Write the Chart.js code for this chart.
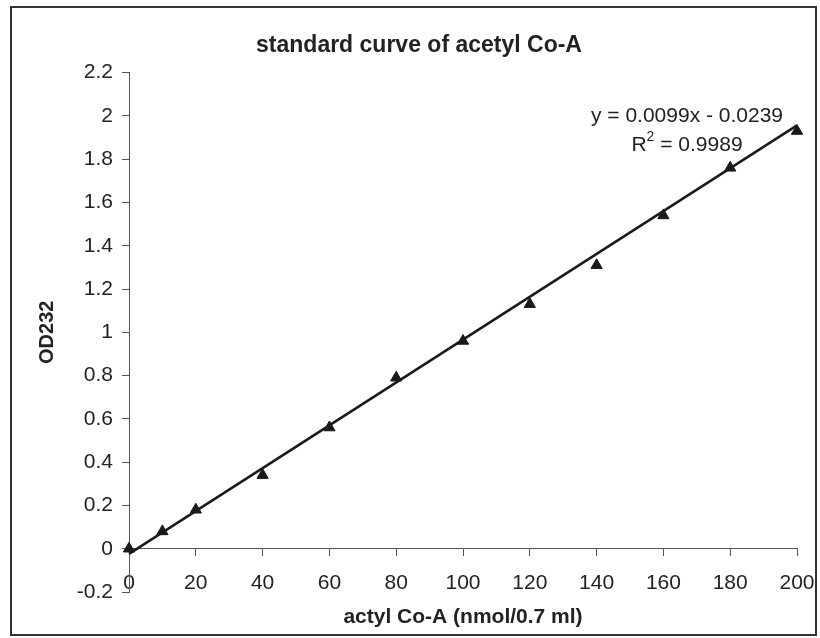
<!DOCTYPE html>
<html><head><meta charset="utf-8">
<script src="https://cdn.jsdelivr.net/npm/chart.js@4.4.1/dist/chart.umd.min.js"></script>
<style>html,body{margin:0;padding:0;background:#fff}canvas{display:block}</style>
</head><body>
<canvas id="c" width="820" height="638"></canvas>
<script>
// ---- data ----
const concentration = [0, 10, 20, 40, 60, 80, 100, 120, 140, 160, 180, 200];
const od232 = [0, 0.08, 0.18, 0.34, 0.56, 0.79, 0.96, 1.13, 1.31, 1.54, 1.76, 1.93];
const trendSlope = 0.0099;
const trendIntercept = -0.0239;
const rSquared = 0.9989;
const trendRange = [0, 200];
const xTickValues = [0, 20, 40, 60, 80, 100, 120, 140, 160, 180, 200];
const yTickValues = [-0.2, 0, 0.2, 0.4, 0.6, 0.8, 1, 1.2, 1.4, 1.6, 1.8, 2, 2.2];
const yTickLabels = ['-0.2', '0', '0.2', '0.4', '0.6', '0.8', '1', '1.2', '1.4', '1.6', '1.8', '2', '2.2'];

const FAMILY = '"Liberation Sans", Arial, Helvetica, sans-serif';
const INK = '#222';
const AXIS = '#555';

const frame = {
  id: 'frame',
  beforeDraw(chart) {
    const ctx = chart.ctx;
    ctx.save();
    ctx.fillStyle = '#fff';
    ctx.fillRect(0, 0, chart.width, chart.height);
    ctx.strokeStyle = '#333';
    ctx.lineWidth = 2;
    ctx.strokeRect(11, 7, 805, 628);
    ctx.restore();
  }
};

const equation = {
  id: 'equation',
  afterDraw(chart) {
    const ctx = chart.ctx;
    const ca = chart.chartArea;
    const cx = ca.right - 110;
    ctx.save();
    ctx.fillStyle = INK;
    ctx.textBaseline = 'middle';
    ctx.font = '21px ' + FAMILY;
    const sign = trendIntercept < 0 ? ' - ' : ' + ';
    const line1 = 'y = ' + trendSlope.toFixed(4) + 'x' + sign + Math.abs(trendIntercept).toFixed(4);
    ctx.textAlign = 'center';
    ctx.fillText(line1, cx, ca.top + 44);
    // R² line with superscript
    const a = 'R', b = '2', c = ' = ' + rSquared.toFixed(4);
    const wa = ctx.measureText(a).width, wc = ctx.measureText(c).width;
    ctx.font = '14px ' + FAMILY;
    const wb = ctx.measureText(b).width;
    const total = wa + wb + wc;
    let x = cx - total / 2;
    const y = ca.top + 73;
    ctx.textAlign = 'left';
    ctx.font = '21px ' + FAMILY;
    ctx.fillText(a, x, y); x += wa;
    ctx.font = '14px ' + FAMILY;
    ctx.fillText(b, x, y - 8); x += wb;
    ctx.font = '21px ' + FAMILY;
    ctx.fillText(c, x, y);
    ctx.restore();
  }
};

new Chart(document.getElementById('c'), {
  type: 'scatter',
  data: {
    datasets: [
      {
        label: 'trend',
        type: 'line',
        data: trendRange.map(x => ({ x: x, y: trendSlope * x + trendIntercept })),
        borderColor: '#1a1a1a',
        borderWidth: 2.5,
        pointRadius: 0,
        fill: false,
        clip: false,
        order: 2
      },
      {
        label: 'OD232',
        data: concentration.map((x, i) => ({ x: x, y: od232[i] })),
        pointStyle: 'triangle',
        pointRadius: 6.5,
        backgroundColor: '#1a1a1a',
        borderColor: '#1a1a1a',
        borderWidth: 1,
        clip: false,
        order: 1
      }
    ]
  },
  options: {
    responsive: false,
    animation: false,
    layout: { padding: { left: 41, right: 23, top: 0, bottom: 46 } },
    plugins: {
      legend: { display: false },
      tooltip: { enabled: false },
      title: {
        display: true,
        text: 'standard curve of acetyl Co-A',
        color: INK,
        font: { family: FAMILY, size: 23, weight: 'bold' },
        padding: { top: 32, bottom: 13 }
      }
    },
    scales: {
      x: {
        type: 'linear',
        min: 0, max: 200,
        position: { y: 0 },
        afterBuildTicks: s => { s.ticks = xTickValues.map(v => ({ value: v })); },
        afterFit: s => { s.paddingLeft = 0; s.paddingRight = 0; },
        border: { display: true, color: AXIS, width: 1 },
        grid: { display: true, drawOnChartArea: false, drawTicks: true, tickLength: 7, color: AXIS, tickColor: AXIS },
        ticks: { padding: 15, color: INK, font: { family: FAMILY, size: 21 }, maxRotation: 0, autoSkip: false },
        title: { display: true, text: 'actyl Co-A (nmol/0.7 ml)', color: INK, font: { family: FAMILY, size: 21, weight: 'bold' }, padding: { top: -6, bottom: 0 } }
      },
      y: {
        type: 'linear',
        min: -0.2, max: 2.2,
        afterBuildTicks: s => { s.ticks = yTickValues.map(v => ({ value: v })); },
        afterFit: s => { s.width = 88; },
        border: { display: true, color: AXIS, width: 1 },
        grid: { display: true, drawOnChartArea: false, drawTicks: true, tickLength: 7, color: AXIS, tickColor: AXIS },
        ticks: {
          padding: 9, color: INK, font: { family: FAMILY, size: 21 },
          callback: (v) => { const i = yTickValues.indexOf(v); return i >= 0 ? yTickLabels[i] : ''; }
        },
        title: { display: true, text: 'OD232', color: INK, font: { family: FAMILY, size: 20, weight: 'bold' }, padding: { top: -6, bottom: 0 } }
      }
    }
  },
  plugins: [frame, equation]
});
</script>
</body></html>
